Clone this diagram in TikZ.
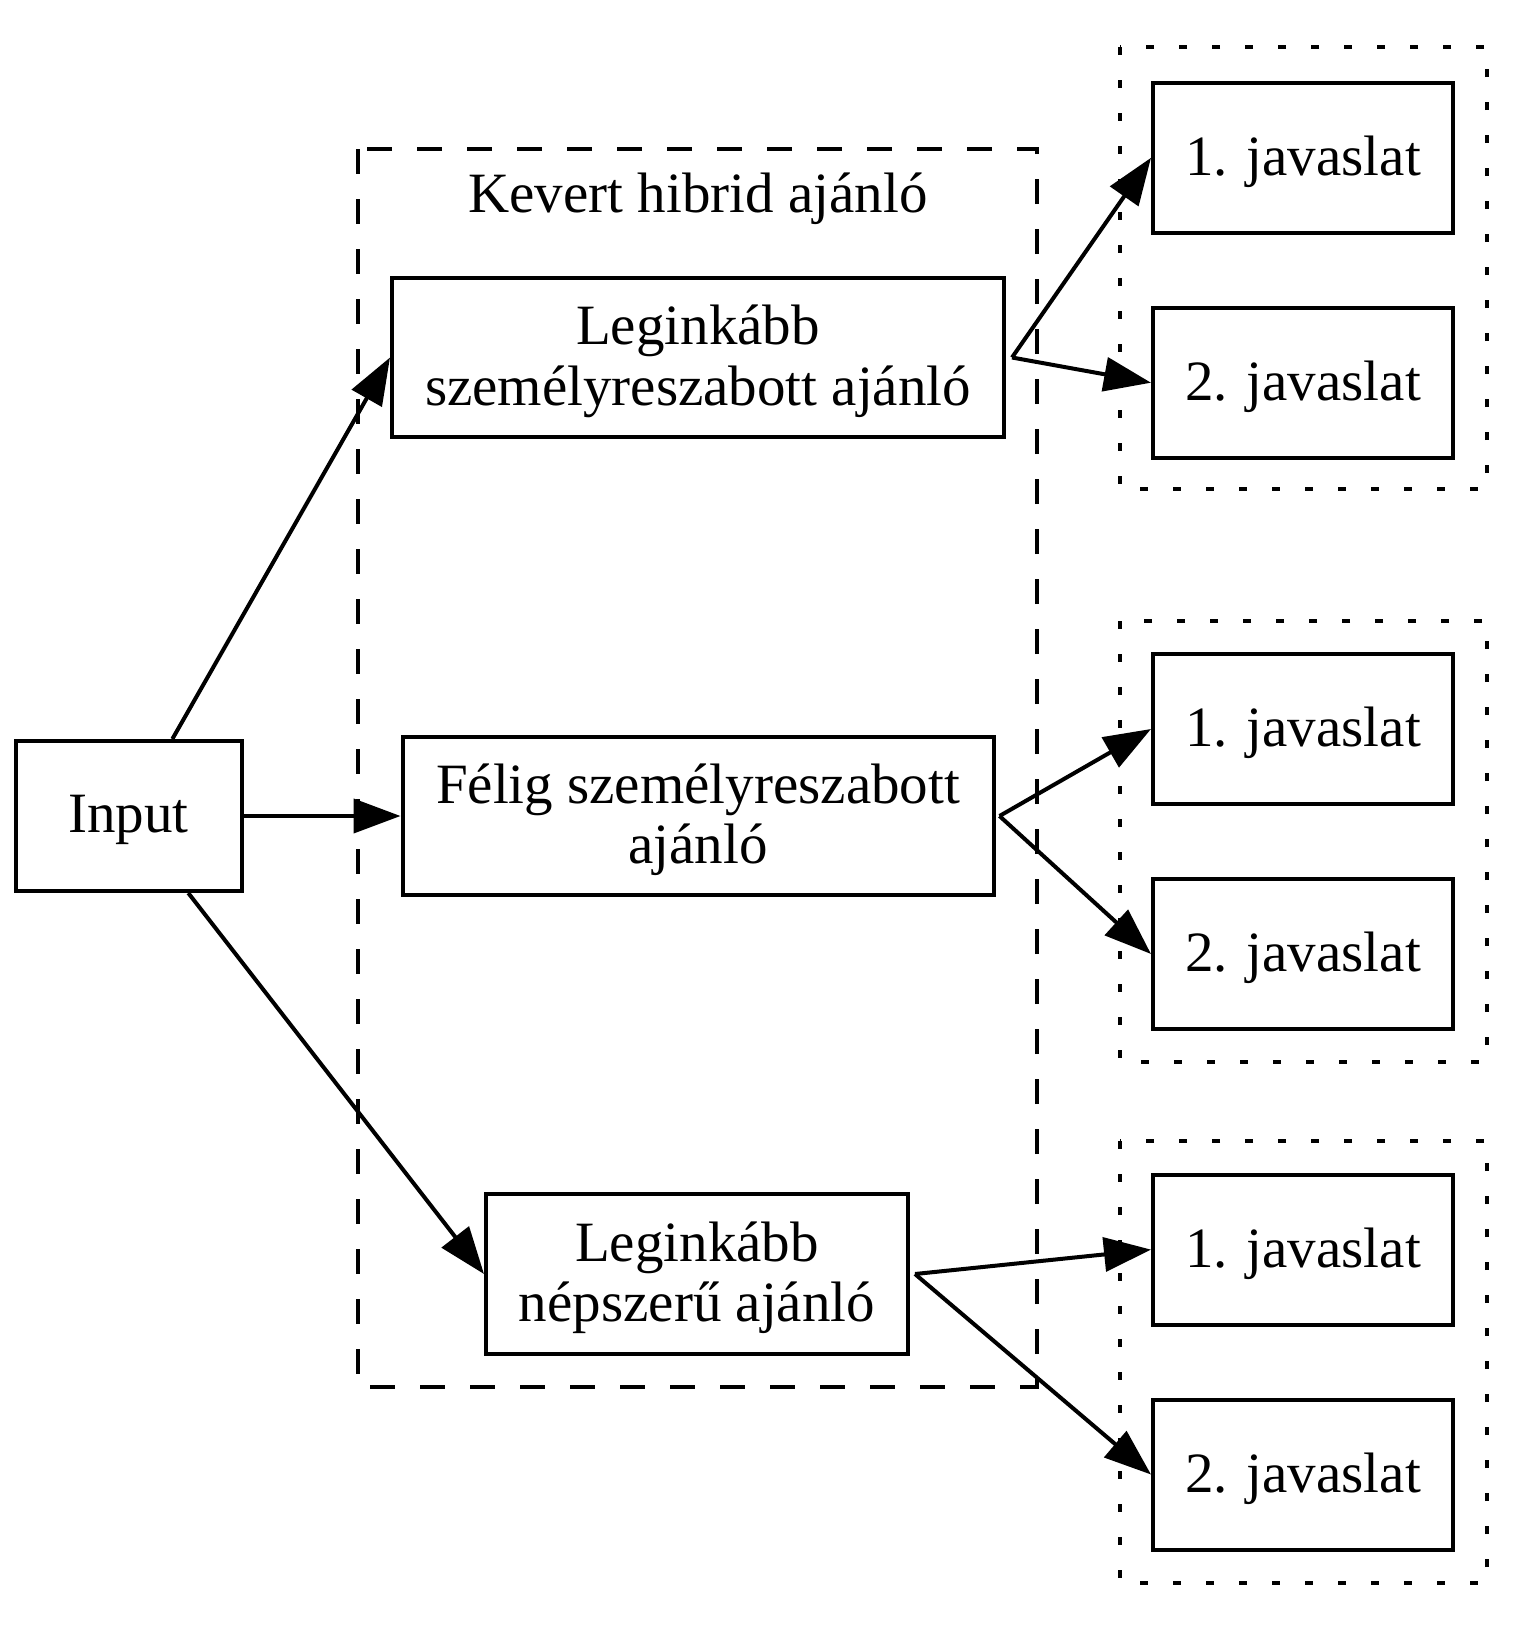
\documentclass[tikz,border=0pt]{standalone}
\usepackage{fontspec}
\setmainfont{Liberation Serif}
\usetikzlibrary{arrows.meta}
\begin{document}
\begin{tikzpicture}[x=0.5pt,y=-0.5pt,
  txt/.style={font=\fontsize{28.5}{30.2}\selectfont, align=center, inner sep=0pt, yshift=-2pt},
  box/.style={draw, line width=2pt, inner sep=0pt},
  edge/.style={line width=2pt, -{Triangle[length=23.5pt,width=17pt]}},
  mixcluster/.style={draw, line width=1.8pt, dash pattern=on 12.5pt off 12.5pt},
  dotcluster/.style={draw, line width=1.8pt, dash pattern=on 4pt off 12.5pt}]
\useasboundingbox (0,0) rectangle (1538,1633);
% clusters
\draw[mixcluster] (358,149) rectangle (1037,1387);
\node[txt] (title) at (698,195) {Kevert hibrid ajánló};
\draw[dotcluster] (1120,47) rectangle (1487,489);
\draw[dotcluster] (1120,621) rectangle (1487,1062);
\draw[dotcluster] (1120,1141) rectangle (1487,1583);
% nodes
\node[box, minimum width=113pt, minimum height=75pt,
  label={[txt]center:{Input}}] (in) at (128.6,816) {};
\node[box, minimum width=306pt, minimum height=79.5pt,
  label={[txt]center:{Leginkább\\személyreszabott ajánló}}] (A) at (698,357.5) {};
\node[box, minimum width=295.5pt, minimum height=79pt,
  label={[txt]center:{Félig személyreszabott\\ajánló}}] (B) at (698,816) {};
\node[box, minimum width=211pt, minimum height=80pt,
  label={[txt]center:{Leginkább\\népszerű ajánló}}] (C) at (697,1274) {};
\node[box, minimum width=150pt, minimum height=75pt,
  label={[txt]center:{1. javaslat}}] (a1) at (1303,157.8) {};
\node[box, minimum width=150pt, minimum height=75pt,
  label={[txt]center:{2. javaslat}}] (a2) at (1303,382.7) {};
\node[box, minimum width=150pt, minimum height=75pt,
  label={[txt]center:{1. javaslat}}] (b1) at (1303,729) {};
\node[box, minimum width=150pt, minimum height=75pt,
  label={[txt]center:{2. javaslat}}] (b2) at (1303,954) {};
\node[box, minimum width=150pt, minimum height=75pt,
  label={[txt]center:{1. javaslat}}] (c1) at (1303,1249.6) {};
\node[box, minimum width=150pt, minimum height=75pt,
  label={[txt]center:{2. javaslat}}] (c2) at (1303,1474.5) {};
% edge origins
\coordinate (Ao) at ([xshift=3pt]A.east);
\coordinate (Bo) at ([xshift=2pt]B.east);
\coordinate (Co) at ([xshift=2.5pt]C.east);
% edges
\draw[edge] (in) -- (A.west);
\draw[edge] (in) -- (B);
\draw[edge] (in) -- (C.west);
\draw[edge] (Ao) -- (a1.west);
\draw[edge] (Ao) -- (a2.west);
\draw[edge] (Bo) -- (b1.west);
\draw[edge] (Bo) -- (b2.west);
\draw[edge] (Co) -- (c1.west);
\draw[edge] (Co) -- (c2.west);
\end{tikzpicture}
\end{document}
